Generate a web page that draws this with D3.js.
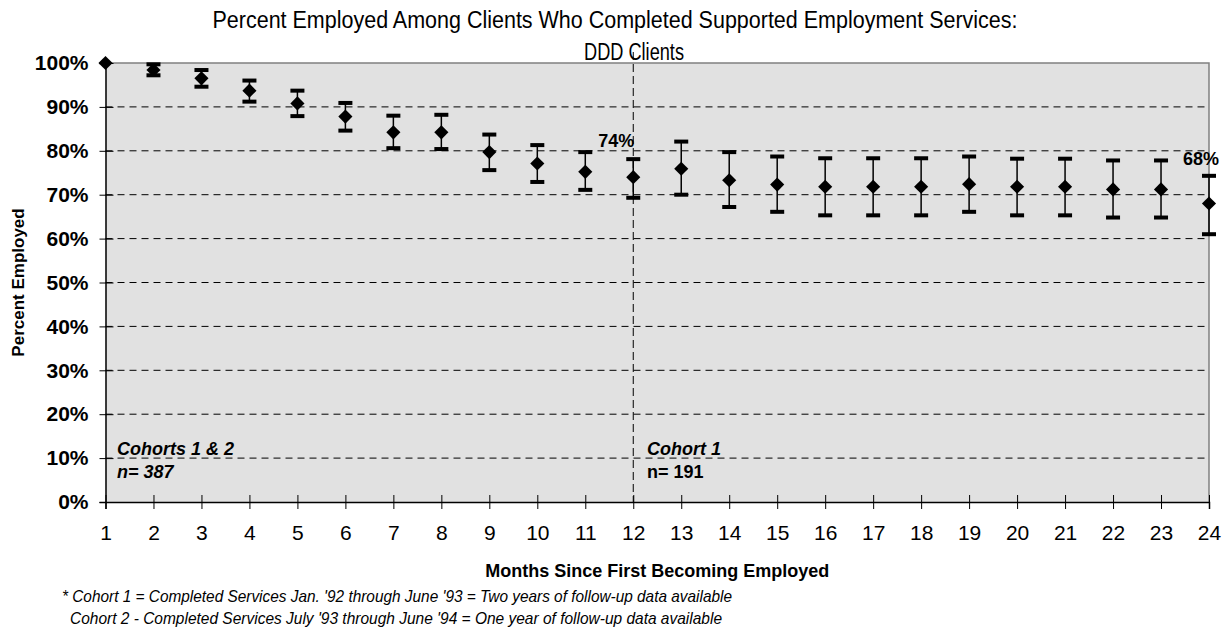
<!DOCTYPE html>
<html>
<head>
<meta charset="utf-8">
<script src="https://cdn.jsdelivr.net/npm/d3@7"></script>
<style>
  body { margin: 0; background: #fff; }
  svg { display: block; }
  text { font-family: "Liberation Sans", Arial, sans-serif; fill: #000; }
</style>
</head>
<body>
<svg id="chart" width="1231" height="633"></svg>
<script>
// Months since first becoming employed
const months = ["1","2","3","4","5","6","7","8","9","10","11","12",
                "13","14","15","16","17","18","19","20","21","22","23","24"];
// Percent employed (point estimate) and its confidence interval
const pctEmployed = [100, 98.4, 96.5, 93.7, 90.8, 87.8, 84.2, 84.2, 79.7, 77.1, 75.2, 74,
                     75.9, 73.3, 72.3, 71.8, 71.8, 71.8, 72.4, 71.8, 71.8, 71.2, 71.2, 68];
const upperCI = [100, 99.7, 98.4, 96.0, 93.7, 90.9, 88.0, 88.2, 83.7, 81.3, 79.7, 78.1,
                 82.1, 79.7, 78.7, 78.3, 78.3, 78.3, 78.7, 78.2, 78.2, 77.8, 77.8, 74.3];
const lowerCI = [100, 97.2, 94.6, 91.2, 87.9, 84.6, 80.6, 80.4, 75.6, 72.9, 71.1, 69.3,
                 70.0, 67.2, 66.1, 65.3, 65.3, 65.3, 66.1, 65.3, 65.3, 64.8, 64.8, 61.0];
const yTicks = [0, 10, 20, 30, 40, 50, 60, 70, 80, 90, 100];
const gridValues = [10, 20, 30, 40, 50, 60, 70, 80, 90];
const labelledMonths = ["12", "24"];
const cohortSplit = "12";

const svg = d3.select("#chart");
const plotLeft = 105.5, plotRight = 1209, plotTop = 63, plotBottom = 502;

const x = d3.scalePoint().domain(months).range([plotLeft, plotRight]);
const y = d3.scaleLinear().domain([0, 100]).range([plotBottom, plotTop]);

// plot area
svg.append("rect")
  .attr("x", plotLeft).attr("y", plotTop)
  .attr("width", plotRight - plotLeft).attr("height", plotBottom - plotTop)
  .attr("fill", "#e1e1e1");
svg.append("path")
  .attr("d", `M${plotLeft},${plotTop}H${plotRight}V${plotBottom}`)
  .attr("fill", "none").attr("stroke", "#808080").attr("stroke-width", 1.5);

// dashed gridlines
svg.append("g").selectAll("line").data(gridValues).join("line")
  .attr("x1", plotLeft).attr("x2", plotRight)
  .attr("y1", d => y(d)).attr("y2", d => y(d))
  .attr("stroke", "#000").attr("stroke-width", 1)
  .attr("stroke-dasharray", "7,5");

// cohort divider
svg.append("line")
  .attr("x1", x(cohortSplit)).attr("x2", x(cohortSplit))
  .attr("y1", 52).attr("y2", plotBottom)
  .attr("stroke", "#000").attr("stroke-width", 1)
  .attr("stroke-dasharray", "8,4");

// y axis
const yAxis = svg.append("g")
  .attr("transform", `translate(${plotLeft},0)`)
  .call(d3.axisLeft(y).tickValues(yTicks).tickFormat(d => d + "%").tickSize(6).tickPadding(11));
yAxis.select(".domain").attr("stroke", "#000").attr("stroke-width", 1.5);
yAxis.selectAll(".tick line").attr("x1", 8).attr("stroke", "#000");
yAxis.selectAll(".tick text")
  .attr("font-size", 21).attr("font-weight", "bold")
  .attr("font-family", "Liberation Sans, Arial, sans-serif");

// x axis
const xAxis = svg.append("g")
  .attr("transform", `translate(0,${plotBottom})`)
  .call(d3.axisBottom(x).tickSize(7).tickPadding(16));
xAxis.select(".domain").attr("stroke", "#000").attr("stroke-width", 1.5);
xAxis.selectAll(".tick line").attr("y1", -7).attr("stroke", "#000");
xAxis.selectAll(".tick text")
  .attr("font-size", 21)
  .attr("font-family", "Liberation Sans, Arial, sans-serif");

// error bars
const rows = months.map((m, i) => ({ m, v: pctEmployed[i], hi: upperCI[i], lo: lowerCI[i] }));
const bars = svg.append("g").selectAll("g").data(rows.filter(d => d.hi > d.lo)).join("g");
bars.append("line")
  .attr("x1", d => x(d.m)).attr("x2", d => x(d.m))
  .attr("y1", d => y(d.hi)).attr("y2", d => y(d.lo))
  .attr("stroke", "#000").attr("stroke-width", 1.5);
bars.selectAll("rect").data(d => [{ m: d.m, v: d.hi }, { m: d.m, v: d.lo }]).join("rect")
  .attr("x", d => x(d.m) - 7).attr("y", d => y(d.v) - 2)
  .attr("width", 14).attr("height", 4)
  .attr("fill", "#000");

// diamond markers
svg.append("g").selectAll("path").data(rows).join("path")
  .attr("d", d3.symbol(d3.symbolSquare, 100))
  .attr("transform", d => `translate(${x(d.m)},${y(d.v)}) rotate(45)`)
  .attr("fill", "#000");

// value labels
svg.append("g").selectAll("text").data(rows.filter(d => labelledMonths.includes(d.m))).join("text")
  .attr("x", d => x(d.m) - (d.m === "24" ? 8 : 17))
  .attr("y", d => y(d.hi) - (d.m === "24" ? 11 : 12))
  .attr("text-anchor", "middle")
  .attr("font-size", 18).attr("font-weight", "bold")
  .text(d => Math.round(d.v) + "%");

// cohort annotations
svg.append("text").attr("x", 117).attr("y", 455)
  .attr("font-size", 18).attr("font-weight", "bold").attr("font-style", "italic")
  .text("Cohorts 1 & 2");
svg.append("text").attr("x", 117).attr("y", 478)
  .attr("font-size", 18).attr("font-weight", "bold").attr("font-style", "italic")
  .text("n= 387");
svg.append("text").attr("x", 647).attr("y", 455)
  .attr("font-size", 18).attr("font-weight", "bold").attr("font-style", "italic")
  .text("Cohort 1");
svg.append("text").attr("x", 647).attr("y", 478)
  .attr("font-size", 18).attr("font-weight", "bold")
  .text("n= 191");

// titles
svg.append("text").attr("x", 615).attr("y", 28)
  .attr("text-anchor", "middle").attr("font-size", 23)
  .attr("textLength", 805).attr("lengthAdjust", "spacingAndGlyphs")
  .text("Percent Employed Among Clients Who Completed Supported Employment Services:");
svg.append("text").attr("x", 634).attr("y", 60)
  .attr("text-anchor", "middle").attr("font-size", 23)
  .attr("textLength", 100).attr("lengthAdjust", "spacingAndGlyphs")
  .text("DDD Clients");

svg.append("text").attr("x", (plotLeft + plotRight) / 2).attr("y", 577)
  .attr("text-anchor", "middle").attr("font-size", 18).attr("font-weight", "bold")
  .text("Months Since First Becoming Employed");

svg.append("text")
  .attr("transform", `translate(24,${(plotTop + plotBottom) / 2}) rotate(-90)`)
  .attr("text-anchor", "middle").attr("font-size", 17).attr("font-weight", "bold")
  .text("Percent Employed");

// footnotes
svg.append("text").attr("x", 62).attr("y", 602)
  .attr("font-size", 17).attr("font-style", "italic")
  .attr("textLength", 670).attr("lengthAdjust", "spacingAndGlyphs")
  .text("* Cohort 1 = Completed Services Jan. '92 through June '93 = Two years of follow-up data available");
svg.append("text").attr("x", 70).attr("y", 624)
  .attr("font-size", 17).attr("font-style", "italic")
  .attr("textLength", 652).attr("lengthAdjust", "spacingAndGlyphs")
  .text("Cohort 2 - Completed Services July '93 through June '94 = One year of follow-up data available");
</script>
</body>
</html>
